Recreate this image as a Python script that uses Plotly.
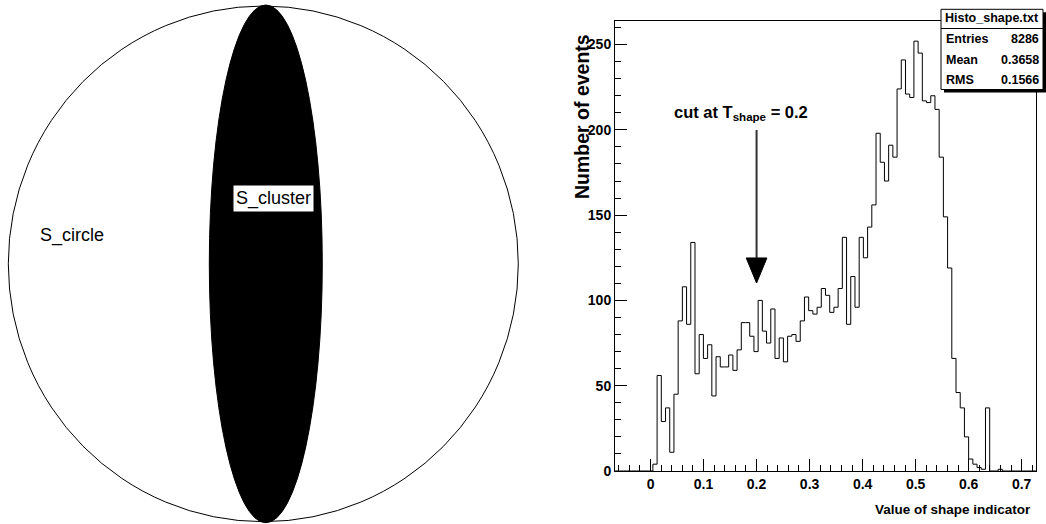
import plotly.graph_objects as go

# ---------------- data ----------------
N_BINS = 100
X_MIN, X_MAX = -0.067, 0.727
# histogram counts per bin (bins 0..99); leading / trailing empty bins padded with 0
LEADING_EMPTY = 9
filled_counts = [
    4, 56, 29, 37, 11, 45, 88, 108, 86, 134, 57, 80,          # k 9-20
    66, 74, 44, 67, 61, 61, 68, 59, 71, 87, 87, 79, 70,       # k 21-33
    100, 82, 75, 95, 66, 78, 64, 79, 80, 76, 88, 102,         # k 34-45
    94, 92, 96, 107, 103, 93, 96, 107, 137, 86, 114, 96,      # k 46-57
    137, 125, 143, 156, 198, 181, 170, 191, 184, 224, 241, 221,  # k 58-69
    219, 252, 245, 217, 216, 220, 212, 184, 149, 119,         # k 70-79
    66, 46, 37, 20, 7, 4, 2, 1, 37, 0, 0, 1,                  # k 80-91
]
counts = [0] * LEADING_EMPTY + filled_counts
counts = counts + [0] * (N_BINS - len(counts))

stats_title = "Histo_shape.txt"
stats_labels = ["Entries", "Mean", "RMS"]
stats_values = ["8286", "0.3658", "0.1566"]

x_tick_labels = ["0", "0.1", "0.2", "0.3", "0.4", "0.5", "0.6", "0.7"]
y_max = 264
cut_value = 0.2

# ---------------- styling ----------------
W, H = 1046, 524
SANS = "Liberation Sans, Arial, sans-serif"

# plot frame in pixels
FX0, FX1, FY0, FY1 = 615, 1036, 20.7, 471


def px(x):
    return x / W


def py(y):
    return 1 - y / H


bin_w = (X_MAX - X_MIN) / N_BINS
edges = [X_MIN + i * bin_w for i in range(N_BINS + 1)]
step_x = edges
step_y = counts + [counts[-1]]

fig = go.Figure()
fig.add_trace(go.Scatter(
    x=step_x, y=step_y, mode="lines", line=dict(color="black", width=1, shape="hv"),
    showlegend=False, hoverinfo="skip", xaxis="x", yaxis="y"))
# invisible trace for left panel axes
fig.add_trace(go.Scatter(x=[0], y=[0], mode="markers", marker=dict(opacity=0),
                         showlegend=False, hoverinfo="skip", xaxis="x2", yaxis="y2"))

tick_font = dict(family=SANS, size=14, color="black", weight="bold")

fig.update_layout(
    width=W, height=H, template="none",
    paper_bgcolor="white", plot_bgcolor="white",
    margin=dict(l=0, r=0, t=0, b=0),
    xaxis=dict(
        domain=[px(FX0), px(FX1)], range=[X_MIN, X_MAX], anchor="y",
        tickmode="array", tickvals=[float(t) for t in x_tick_labels], ticktext=x_tick_labels,
        ticks="inside", ticklen=12, tickwidth=1, tickcolor="black",
        minor=dict(dtick=0.02, tick0=0, ticks="inside", ticklen=6, tickwidth=1, tickcolor="black"),
        showline=True, linecolor="black", linewidth=1, mirror=True,
        showgrid=False, zeroline=False, automargin=False, tickfont=tick_font,
    ),
    yaxis=dict(
        domain=[py(FY1), py(FY0)], range=[0, y_max], anchor="x",
        tick0=0, dtick=50,
        ticks="inside", ticklen=12, tickwidth=1, tickcolor="black",
        minor=dict(dtick=10, ticks="inside", ticklen=6, tickwidth=1, tickcolor="black"),
        showline=True, linecolor="black", linewidth=1, mirror=True,
        showgrid=False, zeroline=False, automargin=False, tickfont=tick_font,
    ),
    xaxis2=dict(domain=[0, px(530)], range=[0, 530], visible=False, anchor="y2", fixedrange=True),
    yaxis2=dict(domain=[0, 1], range=[H, 0], visible=False, anchor="x2", fixedrange=True),
)

shapes = []
annotations = []

# ---------- left panel: circle with elongated cluster ----------
CIRCLE = dict(x0=8.3, x1=518.3, y0=6.0, y1=521.7)
CLUSTER = dict(x0=209.3, x1=322.3, y0=5.0, y1=522.7)
shapes.append(dict(type="circle", xref="x2", yref="y2", **CIRCLE,
                   line=dict(color="black", width=1), fillcolor="white", layer="below"))
shapes.append(dict(type="circle", xref="x2", yref="y2", **CLUSTER,
                   line=dict(color="black", width=1), fillcolor="black", layer="above"))
annotations.append(dict(xref="x2", yref="y2", x=37.7, y=235.7, xanchor="left", yanchor="middle",
                        text="S_circle", showarrow=False,
                        font=dict(family=SANS, size=18, color="black")))
annotations.append(dict(xref="x2", yref="y2", x=273.3, y=198.7, xanchor="center", yanchor="middle",
                        text="S_cluster", showarrow=False, bgcolor="white", borderpad=2,
                        font=dict(family=SANS, size=18, color="black")))

# ---------- right panel: cut arrow ----------
ARROW_TOP, ARROW_BASE, ARROW_TIP, ARROW_HALF = 199.9, 124.9, 110.2, 0.0195
shapes.append(dict(type="line", xref="x", yref="y", x0=cut_value, x1=cut_value,
                   y0=ARROW_TOP, y1=ARROW_BASE, line=dict(color="#333333", width=2)))
shapes.append(dict(type="path", xref="x", yref="y",
                   path=f"M {cut_value - ARROW_HALF},{ARROW_BASE} L {cut_value + ARROW_HALF},{ARROW_BASE} "
                        f"L {cut_value},{ARROW_TIP} Z",
                   fillcolor="black", line=dict(color="black", width=1)))
annotations.append(dict(xref="paper", yref="paper", x=px(672), y=py(113), xanchor="left", yanchor="middle",
                        text="cut at T<sub>shape</sub> = 0.2", showarrow=False,
                        font=dict(family=SANS, size=16.5, color="black", weight="bold")))

# ---------- axis titles ----------
annotations.append(dict(xref="paper", yref="paper", x=px(1033), y=py(509), xanchor="right", yanchor="middle",
                        text="Value of shape indicator", showarrow=False,
                        font=dict(family=SANS, size=13.5, color="black", weight="bold")))
annotations.append(dict(xref="paper", yref="paper", x=px(581.5), y=py(32), xanchor="center", yanchor="top",
                        text="Number of events", showarrow=False, textangle=-90,
                        font=dict(family=SANS, size=19.5, color="black", weight="bold")))

# ---------- stats box ----------
SB_X0, SB_X1, SB_Y0, SB_Y1, SB_SEP = 941, 1043, 9.3, 89.5, 28.5
shapes.append(dict(type="rect", xref="paper", yref="paper",
                   x0=px(SB_X0 + 3), x1=px(SB_X1 + 3), y0=py(SB_Y1 + 3), y1=py(SB_Y0 + 3),
                   fillcolor="black", line=dict(width=0)))
shapes.append(dict(type="rect", xref="paper", yref="paper",
                   x0=px(SB_X0), x1=px(SB_X1), y0=py(SB_Y1), y1=py(SB_Y0),
                   fillcolor="white", line=dict(color="black", width=1)))
shapes.append(dict(type="line", xref="paper", yref="paper",
                   x0=px(SB_X0), x1=px(SB_X1), y0=py(SB_SEP), y1=py(SB_SEP),
                   line=dict(color="black", width=1)))
stat_font = dict(family=SANS, size=12.5, color="black", weight="bold")
annotations.append(dict(xref="paper", yref="paper", x=px((SB_X0 + SB_X1) / 2), y=py(18), xanchor="center",
                        yanchor="middle", text=stats_title, showarrow=False, font=stat_font))
row_y = [39, 59.5, 80]
for lab, val, yy in zip(stats_labels, stats_values, row_y):
    annotations.append(dict(xref="paper", yref="paper", x=px(944), y=py(yy), xanchor="left", yanchor="middle",
                            text=lab, showarrow=False, font=stat_font))
    annotations.append(dict(xref="paper", yref="paper", x=px(1041), y=py(yy), xanchor="right", yanchor="middle",
                            text=val, showarrow=False, font=stat_font))

fig.update_layout(shapes=shapes, annotations=annotations)
fig.write_html("out.html", config={"displayModeBar": False},
               post_script="document.body.style.margin='0';")
